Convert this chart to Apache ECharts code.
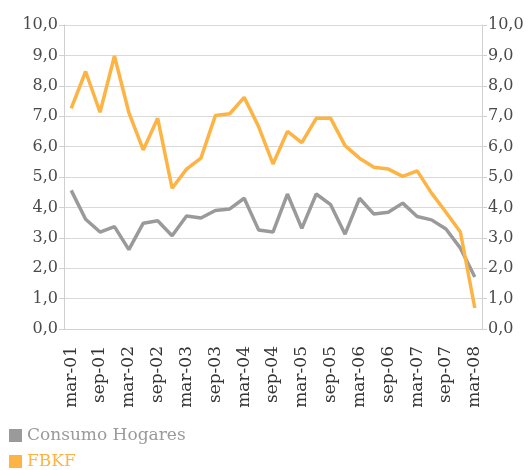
<!DOCTYPE html>
<html><head><meta charset="utf-8">
<script src="https://cdn.jsdelivr.net/npm/echarts@6/dist/echarts.min.js"></script>
<style>html,body{margin:0;padding:0;background:#fff}#c{width:529px;height:470px}</style>
</head><body><div id="c"></div>
<script>
const categories = ["mar-01","jun-01","sep-01","dic-01","mar-02","jun-02","sep-02","dic-02","mar-03","jun-03","sep-03","dic-03","mar-04","jun-04","sep-04","dic-04","mar-05","jun-05","sep-05","dic-05","mar-06","jun-06","sep-06","dic-06","mar-07","jun-07","sep-07","dic-07","mar-08"];
const consumoHogares = [4.56,3.61,3.19,3.37,2.61,3.48,3.56,3.07,3.72,3.65,3.90,3.95,4.30,3.26,3.19,4.44,3.31,4.44,4.09,3.12,4.30,3.78,3.84,4.14,3.70,3.59,3.29,2.66,1.71];
const fbkf = [7.26,8.47,7.13,8.98,7.12,5.89,6.93,4.63,5.26,5.62,7.02,7.08,7.62,6.66,5.43,6.50,6.13,6.93,6.93,6.03,5.62,5.32,5.26,5.02,5.20,4.47,3.84,3.19,0.69];
const yTicks = {min:0, max:10, interval:1};

const FONT = "DejaVu Serif";
const gray = "#9a9a9c", orange = "#fdb444";
const chart = echarts.init(document.getElementById('c'));
const yAxisBase = (pos) => ({
  type:'value', position:pos, min:yTicks.min, max:yTicks.max, interval:yTicks.interval,
  axisLine:{show:true, lineStyle:{color:'#d0d0d0', width:1}},
  axisTick:{show:true, length:5, lineStyle:{color:'#d0d0d0'}},
  splitLine:{show:pos==='left', lineStyle:{color:'#d9d9d9', width:1}},
  axisLabel:{fontFamily:FONT, fontSize:16, color:'#4a4a4a', margin:6,
    formatter:v=>v.toFixed(1).replace('.',',')}
});
const legendBase = (name, color, top) => ({
  orient:'vertical', left:9, top:top, padding:0, itemWidth:13, itemHeight:13, icon:'rect', itemGap:4,
  textStyle:{fontFamily:FONT, fontSize:17, color:color}, data:[name]
});
chart.setOption({
  animation:false,
  grid:{left:64, right:47, top:25, bottom:141},
  legend:[legendBase('Consumo Hogares', gray, 427), legendBase('FBKF', orange, 453)],
  xAxis:{type:'category', data:categories, boundaryGap:true,
    axisLine:{lineStyle:{color:'#d0d0d0'}}, axisTick:{show:false},
    axisLabel:{interval:1, rotate:90, fontFamily:FONT, fontSize:17, color:'#333', margin:17}},
  yAxis:[yAxisBase('left'), yAxisBase('right')],
  series:[
    {name:'Consumo Hogares', type:'line', data:consumoHogares, yAxisIndex:0, symbol:'none',
     lineStyle:{color:gray, width:3.5}, itemStyle:{color:gray}},
    {name:'FBKF', type:'line', data:fbkf, yAxisIndex:0, symbol:'none',
     lineStyle:{color:orange, width:3.5}, itemStyle:{color:orange}}
  ]
});
</script></body></html>
